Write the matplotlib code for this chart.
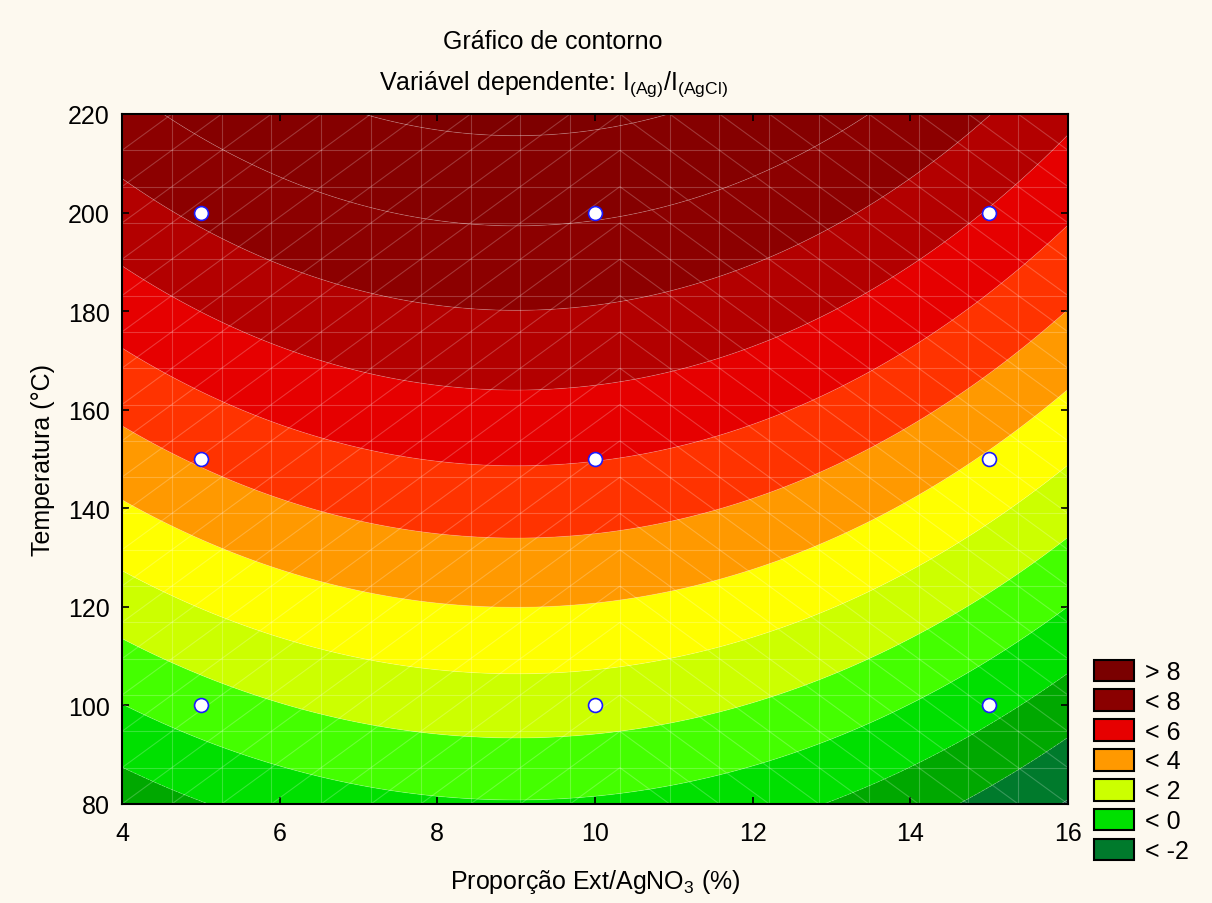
import numpy as np
import matplotlib
matplotlib.use("Agg")
import matplotlib.pyplot as plt
from matplotlib.collections import LineCollection
from matplotlib.patches import Patch

plt.rcParams['font.family'] = ['Liberation Sans', 'DejaVu Sans']
plt.rcParams['mathtext.default'] = 'regular'

# 3x3 factorial design: extract/AgNO3 proportion (%) and temperature (°C)
proportion = [5, 10, 15]
temperature = [100, 150, 200]
# Response I(Ag)/I(AgCl) measured at each temperature, ordered by proportion
response_t100 = [0.53, 1.45, -0.70]
response_t150 = [4.11, 5.03, 2.88]
response_t200 = [7.17, 8.09, 5.94]

levels = [-10, -3, -2, -1, 0, 1, 2, 3, 4, 5, 6, 7, 8, 9, 20]
band_colors = ['#1d5c48', '#007a2c', '#00a800', '#00e000', '#44ff00', '#ccff00',
               '#ffff00', '#ff9900', '#ff3300', '#e60000', '#b30000', '#8c0000',
               '#850000', '#7e0000']
legend_labels = ['> 8', '< 8', '< 6', '< 4', '< 2', '< 0', '< -2']
legend_colors = ['#7a0000', '#8a0000', '#e60000', '#ff9900', '#ccff00', '#00e000', '#007a2c']

# Second-order response surface fitted by least squares (coded variables)
P, T = np.meshgrid(proportion, temperature)
Z = np.array([response_t100, response_t150, response_t200])


def coded(p, t):
    return (np.asarray(p) - 10.0) / 5.0, (np.asarray(t) - 150.0) / 50.0


def design(p, t):
    u, v = coded(p, t)
    u = np.ravel(u); v = np.ravel(v)
    return np.column_stack([np.ones_like(u), u, v, u * u, v * v, u * v])


coef, *_ = np.linalg.lstsq(design(P, T), Z.ravel(), rcond=None)

xg = np.linspace(4, 16, 400)
yg = np.linspace(80, 220, 400)
XG, YG = np.meshgrid(xg, yg)
ZG = (design(XG, YG) @ coef).reshape(XG.shape)

fig = plt.figure(figsize=(12.12, 9.04), dpi=100)
bg = '#fdf9ef'
fig.patch.set_facecolor(bg)
ax = fig.add_axes([122 / 1212, 99 / 904, 946 / 1212, 690 / 904])

ax.contourf(XG, YG, ZG, levels=levels, colors=band_colors, antialiased=True)
ax.contour(XG, YG, ZG, levels=levels[1:-1], colors='white', linewidths=0.6, alpha=0.22)

# Faint triangulated mesh over the surface
nx = ny = 20
gx = np.linspace(4, 16, nx)
gy = np.linspace(80, 220, ny)
segs = []
for xv in gx:
    segs.append([(xv, 80), (xv, 220)])
for yv in gy:
    segs.append([(4, yv), (16, yv)])
for i in range(nx - 1):
    for j in range(ny - 1):
        if i <= 9:
            segs.append([(gx[i], gy[j]), (gx[i + 1], gy[j + 1])])
        else:
            segs.append([(gx[i], gy[j + 1]), (gx[i + 1], gy[j])])
ax.add_collection(LineCollection(segs, colors='white', linewidths=0.8, alpha=0.22))

ax.plot(P.ravel(), T.ravel(), linestyle='none', marker='o', markersize=10,
        markerfacecolor='white', markeredgecolor='#1a1aff', markeredgewidth=1.2)

ax.set_xlim(4, 16)
ax.set_ylim(80, 220)
ax.set_xticks(np.arange(4, 17, 2))
ax.set_yticks(np.arange(80, 221, 20))
ax.tick_params(direction='in', top=True, right=True, length=5, width=1.2,
               labelsize=18)
ax.tick_params(axis='x', pad=12)
ax.tick_params(axis='y', pad=9)
for s in ax.spines.values():
    s.set_linewidth(1.5)

ax.set_xlabel('Proporção Ext/AgNO$_3$ (%)', fontsize=18, labelpad=16)
ax.set_ylabel('Temperatura (°C)', fontsize=18, labelpad=9)

fig.text(553 / 1212, 1 - 42 / 904, 'Gráfico de contorno', ha='center', va='center', fontsize=18)
fig.text(553 / 1212, 1 - 84 / 904, 'Variável dependente: I$_{(Ag)}$/I$_{(AgCl)}$',
         ha='center', va='center', fontsize=18)

handles = [Patch(facecolor=c, edgecolor='black', linewidth=1.5) for c in legend_colors]
fig.legend(handles, legend_labels, loc='upper left', bbox_to_anchor=(1076 / 1212, 1 - 643 / 904),
           frameon=False, fontsize=18, handlelength=1.6, handleheight=0.95,
           labelspacing=0.22, handletextpad=0.45, borderpad=0.2)

fig.savefig('out.png', dpi=100, facecolor=bg)
